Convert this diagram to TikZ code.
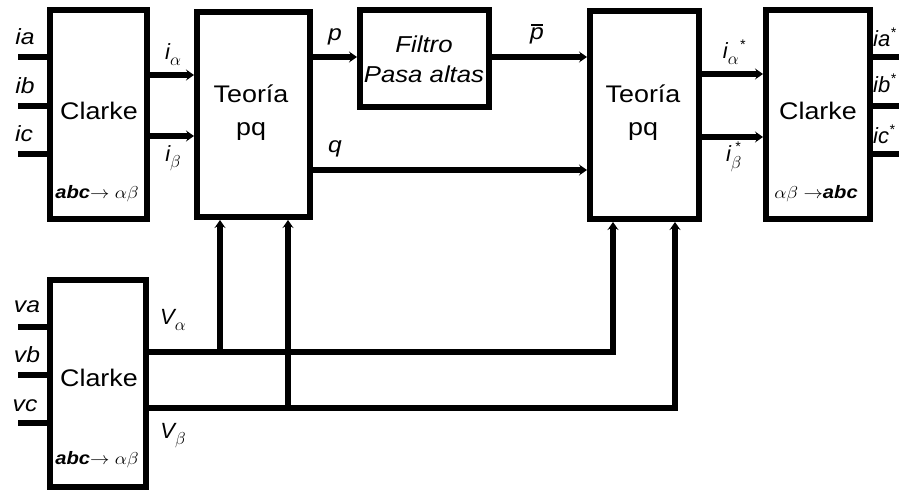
\documentclass[tikz,border=0pt]{standalone}
\usepackage{fontspec}
\usepackage{graphicx}
\setmainfont{Liberation Sans}
\usetikzlibrary{arrows.meta}
\newcommand{\hs}[1]{\scalebox{1.12}[1]{#1}}
\newcommand{\subs}[1]{\raisebox{-6pt}{\fontsize{17}{17}\selectfont$#1$}}
\newcommand{\sups}{\raisebox{9pt}{\fontsize{14}{14}\selectfont *}}
\newcommand{\subsup}[1]{{\fontsize{17}{17}\selectfont$^{\hbox{\fontsize{14}{14}\selectfont\kern4pt\raisebox{3pt}{*}}}_{\hbox{$#1$}}$}}
\tikzset{
  blk/.style={draw, line width=6pt, fill=white, inner sep=0pt},
  wire/.style={line width=5.5pt, line join=miter},
  arr/.style={wire, -{Stealth[length=8pt,width=11pt,inset=3pt]}},
  lbl/.style={inner sep=0pt, font=\fontsize{22}{24}\selectfont\itshape},
  btxt/.style={inner sep=0pt, font=\fontsize{24}{33}\selectfont, align=center},
  ftxt/.style={inner sep=0pt, font=\fontsize{23}{30}\selectfont\itshape, align=center},
  small/.style={inner sep=0pt, font=\fontsize{18}{20}\selectfont\itshape}
}
\begin{document}
\begin{tikzpicture}[x=1pt,y=-1pt]
\clip (0,0) rectangle (899,492);
\fill[white] (0,0) rectangle (899,492);
% blocks
\node[blk, minimum width=97pt, minimum height=209pt] (c1) at (98.5,114.5) {};
\node[blk, minimum width=113pt, minimum height=205pt] (tp1) at (253.5,114.5) {};
\node[blk, minimum width=129pt, minimum height=97pt] (f) at (424.5,58.5) {};
\node[blk, minimum width=109pt, minimum height=208pt] (tp2) at (644.5,115) {};
\node[blk, minimum width=104pt, minimum height=209pt] (c2) at (818,114.5) {};
\node[blk, minimum width=96pt, minimum height=207pt] (c3) at (98,383.5) {};
% block texts
\node[btxt] (c1t) at (99,111) {\hs{Clarke}};
\node[small] (c1s) at (97,194) {\hs{\textbf{abc}$\rightarrow\alpha\beta$}};
\node[btxt] (tp1t) at (251,113) {\hs{Teoría}\\\hs{pq}};
\node[ftxt] (ft) at (424,59) {\hs{Filtro}\\\hs{Pasa altas}};
\node[btxt] (tp2t) at (643,113) {\hs{Teoría}\\\hs{pq}};
\node[btxt] (c2t) at (818,111) {\hs{Clarke}};
\node[small] (c2s) at (816,194) {\hs{$\alpha\beta\rightarrow$\textbf{abc}}};
\node[btxt] (c3t) at (99,378) {\hs{Clarke}};
\node[small] (c3s) at (97,460) {\hs{\textbf{abc}$\rightarrow\alpha\beta$}};
% input coordinates
\coordinate (ia0) at (18,57);
\coordinate (ib0) at (18,106);
\coordinate (ic0) at (18,154);
\coordinate (va0) at (18,327);
\coordinate (vb0) at (18,375);
\coordinate (vc0) at (18,423);
\coordinate (oa) at (905,57);
\coordinate (ob) at (905,106);
\coordinate (oc) at (905,154);
\draw[wire] (ia0) -- (c1.west |- ia0);
\draw[wire] (ib0) -- (c1.west |- ib0);
\draw[wire] (ic0) -- (c1.west |- ic0);
\draw[wire] (va0) -- (c3.west |- va0);
\draw[wire] (vb0) -- (c3.west |- vb0);
\draw[wire] (vc0) -- (c3.west |- vc0);
\draw[wire] (c2.east |- oa) -- (oa);
\draw[wire] (c2.east |- ob) -- (ob);
\draw[wire] (c2.east |- oc) -- (oc);
% internal arrows
\draw[arr] (c1.east |- 0,75) -- (tp1.west |- 0,75);
\draw[arr] (c1.east |- 0,136) -- (tp1.west |- 0,136);
\draw[arr] (tp1.east |- 0,57) -- (f.west |- 0,57);
\draw[arr] (f.east |- 0,57) -- (tp2.west |- 0,57);
\draw[arr] (tp1.east |- 0,170) -- (tp2.west |- 0,170);
\draw[arr] (tp2.east |- 0,74) -- (c2.west |- 0,74);
\draw[arr] (tp2.east |- 0,137) -- (c2.west |- 0,137);
% voltage paths
\coordinate (ja) at (220,352);
\coordinate (jb) at (288,408);
\draw[arr] (c3.east |- ja) -| (613,0 |- tp2.south);
\draw[arr] (c3.east |- jb) -| (675,0 |- tp2.south);
\draw[arr] (ja) -- (ja |- tp1.south);
\draw[arr] (jb) -- (jb |- tp1.south);
% labels
\node[lbl] (lia) at (25,37) {\hs{ia}};
\node[lbl] (lib) at (25,86) {\hs{ib}};
\node[lbl] (lic) at (24,134) {\hs{ic}};
\node[lbl] (lva) at (27,307) {\hs{va}};
\node[lbl] (lvb) at (27,355) {\hs{vb}};
\node[lbl] (lvc) at (25,406) {\hs{vc}};
\node[lbl] (lial) at (173,55) {i\subs{\alpha}};
\node[lbl] (libe) at (173,158) {i\subs{\beta}};
\node[lbl] (lp) at (335,37) {\hs{p}};
\node[lbl] (lq) at (335,149) {\hs{q}};
\node[lbl] (lpb) at (537,36) {\hs{p}};
\draw[line width=1.5pt] (531,25) -- (543,25);
\node[lbl] (lias) at (734,52) {i\subs{\alpha}\kern1pt\sups};
\node[lbl] (libs) at (734,157) {i\subsup{\beta}};
\node[lbl, anchor=west] (loa) at (873,37) {ia\sups};
\node[lbl, anchor=west] (lob) at (873,83) {ib\sups};
\node[lbl, anchor=west] (loc) at (873,134) {ic\sups};
\node[lbl] (lva2) at (173,320) {V\subs{\alpha}};
\node[lbl] (lvb2) at (173,436) {V\subs{\beta}};
\end{tikzpicture}
\end{document}
